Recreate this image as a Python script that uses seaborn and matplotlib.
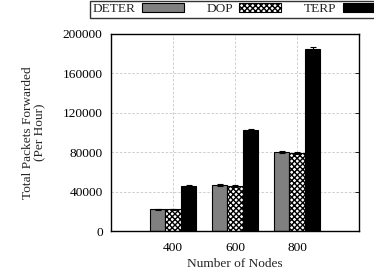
import matplotlib
matplotlib.use("Agg")
import matplotlib.pyplot as plt
import numpy as np
import pandas as pd
import seaborn as sns

# values
nodes = ["400", "600", "800"]
protocols = ["DETER", "DOP", "TERP"]
deter = [22000, 46500, 80000]
dop = [22000, 45500, 79000]
terp = [46000, 103000, 185000]
deter_err = [800, 900, 1000]
dop_err = [800, 900, 1000]
terp_err = [900, 1000, 1500]

df = pd.DataFrame({
    "nodes": nodes * 3,
    "protocol": [p for p in protocols for _ in nodes],
    "packets": deter + dop + terp,
})
errs = deter_err + dop_err + terp_err

sns.set_style("white")
plt.rcParams["font.family"] = ["Liberation Serif", "DejaVu Serif"]
plt.rcParams["font.size"] = 9.6
plt.rcParams["hatch.linewidth"] = 1.0

fig = plt.figure(figsize=(3.74, 2.76), dpi=100)
ax = fig.add_axes([111 / 374, 1 - 231 / 276, 248 / 374, 197 / 276])

palette = {"DETER": "#808080", "DOP": "white", "TERP": "black"}
sns.barplot(data=df, x="nodes", y="packets", hue="protocol", order=nodes,
            hue_order=protocols, palette=palette, width=0.75, errorbar=None,
            edgecolor="black", linewidth=0.8, saturation=1, ax=ax)

bars = [p for p in ax.patches if p.get_height() > 0][:9]
for p in bars:
    if p.get_facecolor()[0] > 0.9:
        p.set_hatch("xxxxxx")

xs = [p.get_x() + p.get_width() / 2 for p in bars]
hs = [p.get_height() for p in bars]
ax.errorbar(xs, hs, yerr=errs, fmt="none", ecolor="black", elinewidth=0.8,
            capsize=2, capthick=0.8)

ax.set_xlim(-1, 3)
ax.set_ylim(0, 200000)
ax.set_yticks(np.arange(0, 200001, 40000))
ax.set_xlabel("Number of Nodes", labelpad=3)
ax.set_ylabel("Total Packets Forwarded\n(Per Hour)", labelpad=12,
              linespacing=0.95)
ax.grid(True, color="#c8c8c8", linestyle=(0, (3, 2)), linewidth=0.6)
ax.set_axisbelow(True)
for s in ax.spines.values():
    s.set_color("black")
    s.set_linewidth(1.0)
ax.tick_params(direction="in", length=3, right=True, top=False, width=0.6,
               colors="black")
ax.tick_params(axis="y", pad=6)
ax.tick_params(axis="x", length=0, pad=8)

leg = ax.legend(loc="upper left", bbox_to_anchor=(90 / 374, 0.998),
                bbox_transform=fig.transFigure, ncol=3, markerfirst=False,
                handlelength=3.1, handleheight=0.55, columnspacing=1.7,
                frameon=True, fancybox=False, borderaxespad=0,
                borderpad=0.2, handletextpad=0.5, title=None)
leg.get_frame().set_edgecolor("black")
leg.get_frame().set_linewidth(1.0)
for h in leg.legend_handles:
    if h.get_facecolor()[0] > 0.9:
        h.set_hatch("xxxxxx")

fig.savefig("out.png", dpi=100)
